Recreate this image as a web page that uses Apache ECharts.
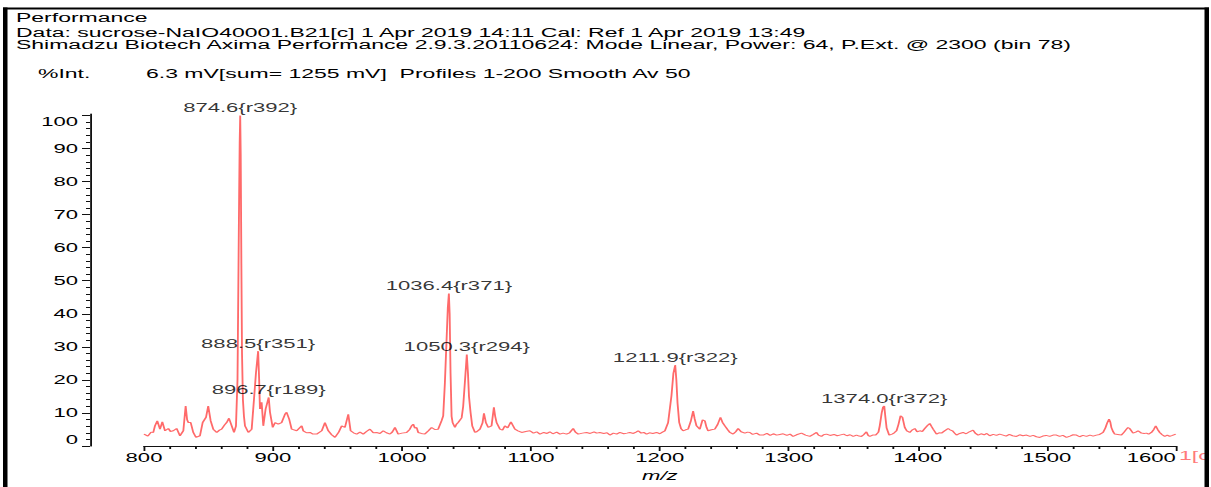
<!DOCTYPE html>
<html><head><meta charset="utf-8">
<script src="https://cdn.jsdelivr.net/npm/echarts@6/dist/echarts.min.js"></script>
<style>
html,body{margin:0;padding:0;background:#fff;overflow:hidden;width:1211px;height:487px}
#chart{position:absolute;left:0;top:0;height:487px;transform-origin:0 0}
</style></head><body><div id="chart"></div>
<script>
// ---- data ----
const mz = [800,803,805.5,807.2,808.5,810.3,812.4,814.2,816.3,818.9,820.5,822.7,825.3,827.9,830.5,832.3,833.4,834.4,836.2,838.2,840.3,843.4,845.5,848.1,849.8,851.7,853.7,856.4,858.5,860.2,862.5,864.1,865.9,868,869.8,871.3,872.5,873.3,873.8,874.2,874.6,875.0,875.5,876.0,876.7,877.5,878.3,880.9,883.5,885.3,886.8,888.5,889.3,889.9,891.2,892.5,894.3,896.7,897.7,899.8,901.6,904.1,906.7,909.3,910.6,912.6,914.5,918.4,922.3,923.5,926,928.7,931,933.9,937.8,940.3,942.9,945.5,948.1,951,953.3,955.8,958.4,960.2,962.5,964.9,967.5,970,972.5,975.2,977.8,980.4,983,985.5,988,990.7,992.5,994.6,997.1,1000,1003.6,1006,1007.5,1008.8,1010,1011.4,1012.6,1015,1017.8,1020.5,1023,1025.5,1028.1,1030.7,1032,1033.3,1034.6,1035.6,1036.4,1037.0,1037.7,1038.5,1039.3,1041.1,1042.3,1043.6,1046.3,1047.5,1048.8,1050.3,1051.2,1052,1053.2,1054.5,1056.6,1058,1060.5,1062.5,1063.6,1065.1,1066.9,1069.5,1071.3,1072.3,1073.4,1076,1078,1079.8,1082,1084.5,1087.6,1090,1092.8,1096,1099.2,1102,1104.5,1107,1110,1112.5,1114.7,1117,1120,1122.5,1125,1127.6,1130,1132.8,1134.5,1136.7,1140,1143.2,1146,1149,1151,1153.5,1156.5,1159,1161.2,1164,1166.5,1169,1172,1174.5,1176.7,1179.5,1181.5,1183.2,1185.5,1187.5,1189.7,1192,1194.5,1197.4,1200,1202,1203.9,1206.4,1209,1210.5,1211.9,1212.8,1213.7,1215,1216.5,1218,1220,1221.9,1224,1225.8,1227,1228.4,1231,1233.1,1234.9,1236.2,1237.4,1240,1242.6,1244.8,1247,1248.5,1250.4,1252.5,1254.3,1256.8,1258.8,1260.7,1263,1265.9,1268,1269.8,1272,1275,1277.5,1280.1,1283,1285.5,1288,1290.5,1293,1295.6,1298.5,1301,1303.3,1306,1309.8,1313,1316.3,1319,1321.5,1323,1325.3,1327,1329.2,1332,1335,1337.5,1339.5,1342.5,1345,1347.5,1349.9,1352.5,1354.5,1356.3,1358,1360.2,1361.5,1362.8,1365,1367.4,1369.5,1370.5,1372.0,1373.0,1374.0,1374.8,1375.8,1377.8,1380,1381.5,1383.5,1385,1386.6,1388.1,1389.9,1391.5,1393.8,1395.5,1397.7,1399.5,1401.6,1403.5,1405.4,1407.5,1409.3,1410.5,1411.9,1414.5,1416.5,1418.4,1420.5,1423.5,1425,1426.9,1428.5,1430,1432.5,1435.1,1437.5,1440,1442.9,1444.5,1446.8,1449,1451.5,1453.5,1455.8,1458.5,1461,1463.5,1466.1,1468.5,1471,1473.5,1476.5,1479,1481.5,1484.3,1487,1489.5,1492,1494.6,1497,1499.5,1502.3,1505,1507.5,1510,1512.5,1515.3,1518,1520.5,1523,1525.5,1528,1530.8,1533.5,1536,1538.5,1541,1543.7,1545.5,1546.8,1548.3,1549.3,1550.1,1551.5,1552.7,1555,1557.9,1560,1561.8,1563,1564.3,1566.9,1569,1570.8,1573.4,1575.5,1577.3,1579,1581.2,1583,1584.5,1586,1587.6,1589.5,1591.5,1593.5,1595.3,1597.5,1600];
const intensity = [3.6,3.0,4.2,4.1,6.1,7.6,5.1,7.3,4.6,5.3,4.4,4.6,5.3,3.1,4.6,12.1,8.0,7.1,7.1,4.1,2.6,3.1,7.1,8.7,12.1,7.6,5.1,4.1,4.8,5.1,6.4,7.1,8.4,6.1,4.1,6,20,55,77,92,100,88,55,28,14,9,6.1,4.1,5.1,14.2,22,28.7,20,11.2,13.2,6.1,11.2,14.7,10.2,5.6,7.1,6.6,7.1,9.6,10.2,8.1,5.1,4.6,6.1,4.6,4.0,4.1,3.6,3.6,4.6,7.1,4.6,3.4,2.6,4.2,6.1,5.6,9.6,4.6,4.0,3.6,4.2,3.6,4.4,5.1,4.0,4.1,3.8,4.6,4.0,3.6,4.2,5.6,3.6,3.9,4.1,5.0,6.1,6.6,5.4,5.6,4.1,3.8,3.6,4.6,5.6,5.0,5.1,7.6,9.1,19,32,42,46.1,40,22,9,7.1,5.6,6.6,7.1,8.5,12,19.2,27.7,22,15,10.2,6.1,4.1,4.3,5.1,7,9.9,7.1,5.6,6.1,11.7,9,7.1,5.1,4.8,6.1,5.5,7.3,5.1,4.6,4.1,4.4,4.6,3.9,4.3,3.6,4.1,3.8,4.3,3.7,4.2,3.6,3.9,3.6,4.0,5.3,4.2,3.6,3.9,4.1,3.8,4.3,3.9,4.1,3.8,4.0,3.3,3.9,3.6,4.1,3.7,3.9,4.1,3.8,4.2,4.6,3.9,4.1,3.6,4.0,3.8,4.1,3.7,4.2,4.6,7.1,15.2,22,24.5,20,13,7.1,5.2,4.6,4.9,5.1,7.5,10.6,8.2,6.1,5.1,7.9,7.6,5.6,4.6,4.9,5.1,6.5,8.7,7.2,6.1,5.0,4.1,3.6,4.3,5.3,4.3,3.9,4.2,4.1,3.5,3.9,3.3,3.3,3.8,3.2,3.7,3.3,3.5,3.7,3.2,3.6,2.9,3.4,3.9,3.3,2.9,3.5,4.1,3.3,2.9,3.4,3.6,3.2,3.5,3.1,3.3,3.6,3.1,3.4,2.9,3.3,3.0,2.9,3.4,4.3,3.2,2.9,3.3,3.3,4.2,6.1,10,11.7,12.1,9,5.5,3.3,3.6,3.9,4.6,6.5,9.1,8.7,5.6,4.6,4.1,4.8,5.3,4.3,4.6,4.4,5.3,6.2,6.8,6.0,5.1,3.6,4.0,3.9,4.5,5.3,4.9,4.6,3.9,3.3,3.8,4.1,3.7,4.3,4.8,3.9,3.3,3.7,3.4,3.8,3.1,3.5,3.2,3.6,3.3,3.0,3.5,3.1,2.9,3.4,3.1,3.3,2.9,3.2,2.8,2.6,3.0,3.2,2.9,3.3,3.3,2.9,3.2,2.6,3.0,3.4,3.3,2.8,3.2,2.9,3.3,3.0,3.3,3.5,4.1,5.5,6.9,8.1,7.2,5.6,4.3,3.6,3.5,3.3,4.2,5.1,5.6,5.3,3.9,4.2,4.6,3.9,3.8,3.9,3.6,4.1,5.0,6.1,5.0,4.1,3.4,2.9,3.3,2.9,3.2,3.6];
const peakMz = [874.6, 888.5, 896.7, 1036.4, 1050.3, 1211.9, 1374.0];
const peakInt = [100, 28.7, 14.7, 46.1, 27.7, 24.5, 12.1];
const peakTag = ['r392', 'r351', 'r189', 'r371', 'r294', 'r322', 'r372'];
const yTickLabels = [0, 10, 20, 30, 40, 50, 60, 70, 80, 90, 100];
const yMinorTicks = [2,4,6,8,12,14,16,18,22,24,26,28,32,34,36,38,42,44,46,48,52,54,56,58,62,64,66,68,72,74,76,78,82,84,86,88,92,94,96,98];
const headerLines = [
  'Performance',
  'Data: sucrose-NaIO40001.B21[c] 1 Apr 2019 14:11 Cal: Ref 1 Apr 2019 13:49',
  'Shimadzu Biotech Axima Performance 2.9.3.20110624: Mode Linear, Power: 64, P.Ext. @ 2300 (bin 78)'
];
const yUnit = '%Int.';
const acqInfo = '6.3 mV[sum= 1255 mV]  Profiles 1-200 Smooth Av 50';
const xName = 'm/z';
const traceTag = '1[c';

// ---- layout (horizontal stretch of the whole picture) ----
const S = 1.84;
const W = 1211 / S;
const el = document.getElementById('chart');
el.style.width = W + 'px';
el.style.transform = 'scaleX(' + S + ')';
const X = v => v / S;

const spectrum = mz.map((m, i) => [m, intensity[i]]);
const peaks = peakMz.map((m, i) => ({ value: [m, peakInt[i]], tag: peakTag[i] }));

const FONT = '"Liberation Sans", Arial, sans-serif';
const txt = (text, x, y, size, fill) => ({
  type: 'text', x: X(x), y: y, z: 50,
  style: { text: text, font: size + 'px ' + FONT, fill: fill || '#000', lineHeight: 11,
           align: 'left', verticalAlign: 'middle', textAlign: 'left', textVerticalAlign: 'middle' }
});
const rect = (x, y, w, h) => ({ type: 'rect', z: 100, shape: { x: X(x), y: y, width: X(w), height: h }, style: { fill: '#000' } });

const chart = echarts.init(el, null, { renderer: 'svg' });
chart.setOption({
  animation: false,
  backgroundColor: '#fff',
  grid: { left: X(144), right: X(1211 - 1176), top: 114, bottom: 40, containLabel: false },
  xAxis: {
    type: 'value', min: 800, max: 1600, interval: 100,
    axisLine: { show: true, onZero: false, lineStyle: { color: '#111', width: 1 } },
    axisTick: { show: true, inside: false, length: 5, lineStyle: { color: '#111' } },
    minorTick: { show: true, splitNumber: 5, length: 3, lineStyle: { color: '#111' } },
    splitLine: { show: false },
    axisLabel: { fontSize: 12, fontFamily: FONT, color: '#000', margin: 6, alignMaxLabel: 'right',
                 formatter: v => String(v) },
    name: xName, nameLocation: 'middle', nameGap: 24,
    nameTextStyle: { fontSize: 12, fontFamily: FONT, fontStyle: 'italic', color: '#000' }
  },
  yAxis: [{
    type: 'value', min: 0, max: 100.45, position: 'left', offset: X(144 - 90),
    axisLine: { show: true, onZero: false, lineStyle: { color: '#111', width: 1 } },
    axisTick: { show: true, length: X(8), customValues: yTickLabels, lineStyle: { color: '#111' } },
    axisLabel: { customValues: yTickLabels, fontSize: 12, fontFamily: FONT, color: '#000', margin: X(12),
                 formatter: v => String(v),
                 verticalAlignMinLabel: 'bottom', verticalAlignMaxLabel: 'top' },
    splitLine: { show: false }
  }, {
    type: 'value', min: 0, max: 100.45, position: 'left', offset: X(144 - 90),
    axisLine: { show: false },
    axisTick: { show: true, length: X(4), customValues: yMinorTicks, lineStyle: { color: '#111' } },
    axisLabel: { show: false },
    splitLine: { show: false }
  }],
  series: [{
    type: 'line', data: spectrum, showSymbol: false, symbol: 'none', sampling: null,
    lineStyle: { color: '#ff6a6a', width: 1 }, itemStyle: { color: '#ff6a6a' }, silent: true, z: 3
  }, {
    type: 'scatter', data: peaks, symbolSize: 1, itemStyle: { color: 'rgba(0,0,0,0)' }, silent: true, z: 4,
    label: {
      show: true, position: 'top', distance: 1, fontSize: 12, fontFamily: FONT, color: '#000',
      formatter: p => p.value[0].toFixed(1) + '{' + p.data.tag + '}'
    }
  }],
  graphic: [
    txt(headerLines[0], 16, 17.5, 12.5),
    txt(headerLines[1], 16, 32.5, 12.5),
    txt(headerLines[2], 16, 45, 12.5),
    txt(yUnit, 38, 74, 12.5),
    txt(acqInfo, 146, 74, 12.5),
    txt(traceTag, 1179, 456, 12.5, '#ff7a7a'),
    rect(3, 7.5, 4.5, 480),
    rect(3, 7.5, 1206, 2),
    rect(1204.5, 7.5, 4.5, 480)
  ]
});
</script></body></html>
